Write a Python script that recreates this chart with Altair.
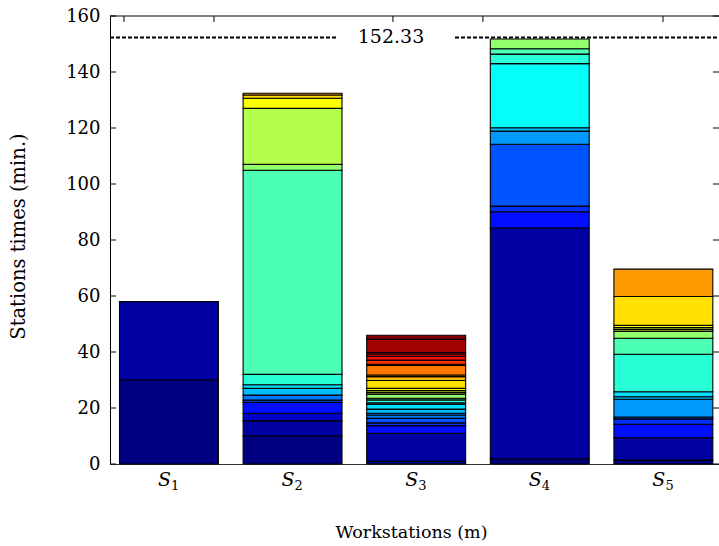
import altair as alt
import pandas as pd
import numpy as np

# ---------------- data ----------------
station_ids = [1, 2, 3, 4, 5]
station_digits = ["1", "2", "3", "4", "5"]

s1_times = [30.0, 28.0]
s1_levels = [0, 1]

s2_times = [10.0, 5.4, 2.7, 3.9, 0.8, 1.8, 2.4, 1.3, 3.7, 72.9, 2.1, 20.0, 3.6, 1.2, 0.6]
s2_levels = [0, 1, 2, 4, 6, 7, 9, 10, 12, 13, 15, 16, 18, 19, 21]

s3_times = [1.0, 10.0, 2.7, 1.0, 1.6, 1.2, 0.6, 1.5, 1.8, 0.5, 1.0, 0.6, 1.4, 0.6,
            0.7, 0.8, 2.8, 1.4, 0.6, 3.4, 0.4, 1.5, 1.4, 0.8, 0.5, 4.7, 1.5]
s3_levels = [0, 1, 4, 5, 6, 7, 8, 9, 10, 11, 12, 13, 15, 16,
             17, 18, 19, 20, 21, 22, 23, 24, 25, 26, 27, 28, 29]

s4_times = [1.8, 82.5, 5.8, 2.0, 22.1, 4.7, 1.2, 22.9, 3.4, 1.9, 3.5]
s4_levels = [0, 1, 4, 5, 6, 8, 9, 11, 12, 13, 15]

s5_times = [1.4, 8.0, 4.8, 1.9, 0.7, 6.3, 0.9, 1.8, 13.4, 5.7, 2.4, 0.7, 0.7, 0.8, 10.3, 9.8]
s5_levels = [0, 1, 4, 5, 6, 8, 9, 10, 12, 13, 15, 16, 17, 18, 19, 21]

cycle_time = 152.33
y_tick_values = [0, 20, 40, 60, 80, 100, 120, 140, 160]
top_tick_positions = [0.636, 1.364, 2.812, 3.540, 4.997]

# ---------------- tables ----------------
all_times = [s1_times, s2_times, s3_times, s4_times, s5_times]
all_levels = [s1_levels, s2_levels, s3_levels, s4_levels, s5_levels]

rows = []
for sid, vals, levs in zip(station_ids, all_times, all_levels):
    start = 0.0
    for v, lv in zip(vals, levs):
        rows.append({"pos": sid, "level": lv, "y0": start, "y1": start + v, "time": v})
        start += v
seg = pd.DataFrame(rows)

N_LEVELS = 30
def jet_hex(i, n):
    t = i / (n - 1)
    r = np.clip(1.5 - abs(4 * t - 3), 0, 1)
    g = np.clip(1.5 - abs(4 * t - 2), 0, 1)
    b = np.clip(1.5 - abs(4 * t - 1), 0, 1)
    return "#%02x%02x%02x" % (int(round(r * 255)), int(round(g * 255)), int(round(b * 255)))

level_domain = list(range(N_LEVELS))
level_colors = [jet_hex(i, N_LEVELS) for i in level_domain]

labels_df = pd.DataFrame({"pos": station_ids, "letter": ["S"] * 5, "sub": station_digits})
yt_df = pd.DataFrame({"v": y_tick_values})
tt_df = pd.DataFrame({"x": top_tick_positions})
ct_df = pd.DataFrame({"y": [cycle_time], "label": [f"{cycle_time:.2f}"]})

W, H = 609, 448
FONT = "DejaVu Serif"

xscale = alt.Scale(domain=[0.523, 5.45], nice=False, zero=False)
yscale = alt.Scale(domain=[0, 160], nice=False)

bars = alt.Chart(seg).transform_calculate(
    xa="datum.pos - 0.4", xb="datum.pos + 0.4"
).mark_rect(stroke="black", strokeWidth=1.1).encode(
    x=alt.X("xa:Q", scale=xscale,
            axis=alt.Axis(labels=False, ticks=False, tickSize=0, grid=False,
                          domainColor="#333333", title="Workstations (m)",
                          titleFont=FONT, titleFontSize=17.5, titleFontWeight="normal",
                          titleColor="black", titleX=301, titleY=68,
                          titleBaseline="middle", titleAlign="center")),
    x2="xb:Q",
    y=alt.Y("y0:Q", scale=yscale,
            axis=alt.Axis(values=y_tick_values, ticks=False, tickSize=0, grid=False,
                          labelFont=FONT, labelFontSize=18, labelColor="black",
                          labelPadding=10, domainColor="black",
                          title="Stations times (min.)", titleFont=FONT,
                          titleFontSize=19.5, titleFontWeight="normal", titleColor="black",
                          titleX=-92, titleY=220, titleAngle=-90,
                          titleBaseline="middle", titleAlign="center")),
    y2="y1:Q",
    color=alt.Color("level:O", scale=alt.Scale(domain=level_domain, range=level_colors),
                    legend=None),
)

left_ticks = alt.Chart(yt_df).mark_rule(color="black").encode(
    y=alt.Y("v:Q", scale=yscale), x=alt.value(0), x2=alt.value(6))
right_ticks = alt.Chart(yt_df).mark_rule(color="black").encode(
    y=alt.Y("v:Q", scale=yscale), x=alt.value(W - 6), x2=alt.value(W))
top_ticks = alt.Chart(tt_df).mark_rule(color="black").encode(
    x=alt.X("x:Q", scale=xscale), y=alt.value(0), y2=alt.value(6))
top_line = alt.Chart(yt_df.head(1)).mark_rule(color="black").encode(
    x=alt.value(0), x2=alt.value(W), y=alt.value(0))

dash_left = alt.Chart(ct_df).mark_rule(color="black", strokeWidth=2, strokeDash=[4, 2]).encode(
    y=alt.Y("y:Q", scale=yscale), x=alt.value(0), x2=alt.value(227))
dash_right = alt.Chart(ct_df).mark_rule(color="black", strokeWidth=2, strokeDash=[4, 2]).encode(
    y=alt.Y("y:Q", scale=yscale), x=alt.value(345), x2=alt.value(W))
ct_text = alt.Chart(ct_df).mark_text(font=FONT, fontSize=19, color="black",
                                     align="center", baseline="middle").encode(
    y=alt.Y("y:Q", scale=yscale), x=alt.value(281), text="label:N")

s_text = alt.Chart(labels_df).mark_text(font=FONT, fontSize=19, fontStyle="italic",
                                        color="black", align="right",
                                        baseline="alphabetic", dx=2).encode(
    x=alt.X("pos:Q", scale=xscale), y=alt.value(470), text="letter:N")
sub_text = alt.Chart(labels_df).mark_text(font=FONT, fontSize=13, color="black",
                                          align="left", baseline="alphabetic", dx=2).encode(
    x=alt.X("pos:Q", scale=xscale), y=alt.value(474), text="sub:N")

chart = alt.layer(
    bars, left_ticks, right_ticks, top_ticks, top_line,
    dash_left, dash_right, ct_text, s_text, sub_text
).properties(
    width=W, height=H,
    autosize=alt.AutoSizeParams(type="none"),
    padding={"left": 110, "top": 16, "right": 0, "bottom": 82},
    background="white",
).configure_view(strokeWidth=0)

chart.save("out.html", embed_options={"renderer": "svg", "actions": False})
